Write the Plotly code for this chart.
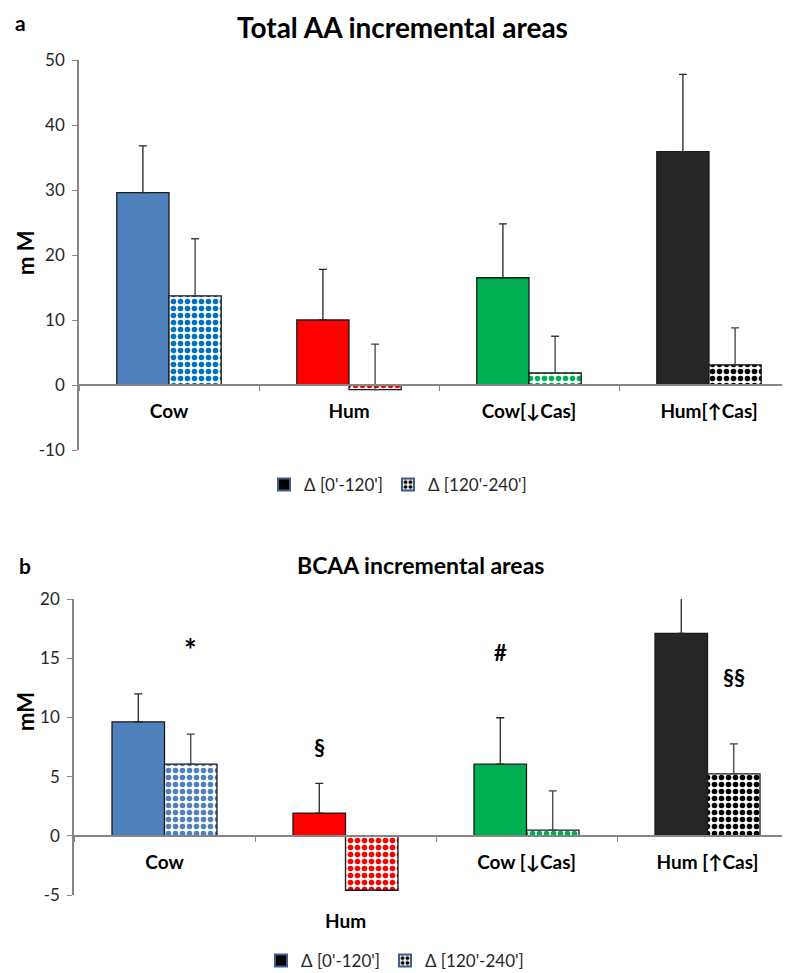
import plotly.graph_objects as go

# ---------------- data ----------------
cats_a = ["Cow", "Hum", "Cow[↓Cas]", "Hum[↑Cas]"]
aa_0_120 = [29.6, 10.0, 16.5, 35.9]
aa_0_120_err = [7.2, 7.8, 8.3, 11.9]
aa_120_240 = [13.7, -0.7, 1.85, 3.1]
aa_120_240_err = [8.8, 7.0, 5.65, 5.7]
ticks_a = [-10, 0, 10, 20, 30, 40, 50]

cats_b = ["Cow", "Hum", "Cow [↓Cas]", "Hum [↑Cas]"]
bcaa_0_120 = [9.63, 1.92, 6.05, 17.1]
bcaa_0_120_err = [2.35, 2.51, 3.92, 2.96]
bcaa_120_240 = [6.05, -4.6, 0.48, 5.23]
bcaa_120_240_err = [2.54, 0.0, 3.31, 2.54]
ticks_b = [-5, 0, 5, 10, 15, 20]

# significance marks: (category index, series index 0/1, text, y value)
marks_b = [(0, 1, "*", 15.8), (1, 0, "§", 7.5), (2, 0, "#", 15.5), (3, 1, "§§", 13.4)]

legend_names = ["Δ [0'-120']", "Δ [120'-240']"]

# ---------------- style ----------------
W, H = 790, 973
OFF = 8          # page body margin compensation (px)
FONT = "Lato"
solid_colors = ["#4F81BD", "#FF0000", "#00B050", "#262626"]
pat_colors_a = ["#0070C0", "#FF0000", "#00B050", "#000000"]
pat_colors_b = ["#4F81BD", "#FF0000", "#00B050", "#000000"]
AXC = "#868686"
TXT = "#262626"
BARGAP = 0.42

# pixel layout (screen coordinates of the target picture)
top_y = (60, 450)      # px of ymax, ymin
top_x0 = 79
bot_y = (599, 895)
bot_x0 = 74
top_range = (-10, 50)
bot_range = (-5, 20)
cat_px_top = 180
cat_px_bot = 181


def pf(py):
    return 1 - (py - OFF) / H


def px(x):
    return (x - OFF) / W


fig = go.Figure()


def add_bars(cats, v1, e1, v2, e2, pcols, xa, ya):
    fig.add_trace(go.Bar(
        x=cats, y=v1, xaxis=xa, yaxis=ya, offsetgroup="a", showlegend=False,
        marker=dict(color=solid_colors, line=dict(color="#1a1a1a", width=1.3)),
        error_y=dict(type="data", array=e1, arrayminus=[0] * len(e1), symmetric=False,
                     color="#262626", thickness=1.3, width=4),
        hoverinfo="skip"))
    fig.add_trace(go.Bar(
        x=cats, y=v2, xaxis=xa, yaxis=ya, offsetgroup="b", showlegend=False,
        marker=dict(color="white", line=dict(color="#1a1a1a", width=1.3),
                    pattern=dict(shape=".", fgcolor=pcols, bgcolor="white",
                                 size=7, solidity=0.5, fillmode="replace")),
        error_y=dict(type="data", array=e2, arrayminus=[0] * len(e2), symmetric=False,
                     color="#404040", thickness=1.3, width=4),
        hoverinfo="skip"))
    # legend-only entries
    lg = "legend" if xa == "x" else "legend2"
    fig.add_trace(go.Bar(
        x=[cats[0]], y=[None], xaxis=xa, yaxis=ya, offsetgroup="a", name=legend_names[0],
        legend=lg, marker=dict(color="black", line=dict(color="#3E5E8A", width=2))))
    fig.add_trace(go.Bar(
        x=[cats[0]], y=[None], xaxis=xa, yaxis=ya, offsetgroup="b", name=legend_names[1],
        legend=lg, marker=dict(color="white", line=dict(color="#3E5E8A", width=2),
                               pattern=dict(shape=".", fgcolor="black", bgcolor="white",
                                            size=6, solidity=0.5, fillmode="replace"))))


add_bars(cats_a, aa_0_120, aa_0_120_err, aa_120_240, aa_120_240_err, pat_colors_a, "x", "y")
add_bars(cats_b, bcaa_0_120, bcaa_0_120_err, bcaa_120_240, bcaa_120_240_err, pat_colors_b, "x2", "y2")


def zero_pos(dom, rng):
    return dom[0] + (0 - rng[0]) / (rng[1] - rng[0]) * (dom[1] - dom[0])


ydom_a = [pf(top_y[1]), pf(top_y[0])]
ydom_b = [pf(bot_y[1]), pf(bot_y[0])]
xdom_a = [px(top_x0), 1]
xdom_b = [px(bot_x0), 1]
xr_a = [-0.5, -0.5 + (W - (top_x0 - OFF)) / cat_px_top]
xr_b = [-0.5, -0.5 + (W - (bot_x0 - OFF)) / cat_px_bot]

xcommon = dict(type="category", showline=True, linecolor=AXC, linewidth=2,
               ticks="outside", ticklen=5, tickcolor=AXC, tickson="boundaries",
               tickfont=dict(family=FONT, size=19, color="black", weight="bold"),
               showgrid=False, zeroline=False, anchor="free", ticklabelstandoff=9,
               automargin=False)
ycommon = dict(showline=True, linecolor=AXC, linewidth=1.5, ticks="outside", ticklen=5,
               tickcolor=AXC, tickfont=dict(family=FONT, size=17, color=TXT),
               showgrid=False, zeroline=False, ticklabelstandoff=4, automargin=False,
               tickmode="array")

fig.update_layout(
    width=W, height=H, margin=dict(l=0, r=0, t=0, b=0, pad=0, autoexpand=False),
    paper_bgcolor="white", plot_bgcolor="white",
    barmode="group", bargap=BARGAP, bargroupgap=0,
    xaxis=dict(xcommon, domain=xdom_a, range=xr_a, position=zero_pos(ydom_a, top_range),
               categoryorder="array", categoryarray=cats_a),
    yaxis=dict(ycommon, domain=ydom_a, range=list(top_range), anchor="x",
               tickvals=ticks_a, ticktext=[str(v) for v in ticks_a]),
    xaxis2=dict(xcommon, domain=xdom_b, range=xr_b, position=zero_pos(ydom_b, bot_range),
                categoryorder="array", categoryarray=cats_b,
                tickmode="array", tickvals=cats_b,
                ticktext=[c if v >= 0 else "" for c, v in zip(cats_b, bcaa_120_240)]),
    yaxis2=dict(ycommon, domain=ydom_b, range=list(bot_range), anchor="x2",
                tickvals=ticks_b, ticktext=[str(v) for v in ticks_b]),
    legend=dict(orientation="h", x=px(398), xanchor="center", y=pf(485), yanchor="middle",
                font=dict(family=FONT, size=17, color=TXT), bgcolor="rgba(0,0,0,0)",
                itemwidth=30),
    legend2=dict(orientation="h", x=px(395), xanchor="center", y=pf(961), yanchor="middle",
                 font=dict(family=FONT, size=17, color=TXT), bgcolor="rgba(0,0,0,0)",
                 itemwidth=30),
    showlegend=True,
)

ann = []
# titles and panel letters
ann.append(dict(text="<b>Total AA incremental areas</b>", x=px(402), y=1, xref="paper", yref="paper",
                xanchor="center", yanchor="top", showarrow=False,
                font=dict(family=FONT, size=28, color="black")))
ann.append(dict(text="<b>a</b>", x=px(20), y=pf(22), xref="paper", yref="paper",
                xanchor="center", yanchor="middle",
                showarrow=False, font=dict(family=FONT, size=21, color="black")))
ann.append(dict(text="<b>BCAA incremental areas</b>", x=px(420), y=pf(565), xref="paper", yref="paper",
                xanchor="center", yanchor="middle", showarrow=False,
                font=dict(family=FONT, size=23, color="black")))
ann.append(dict(text="<b>b</b>", x=px(25), y=pf(565), xref="paper", yref="paper",
                xanchor="center", yanchor="middle",
                showarrow=False, font=dict(family=FONT, size=21, color="black")))
# y titles
ann.append(dict(text="<b>m M</b>", x=px(25), y=pf(253), xref="paper", yref="paper", textangle=-90,
                xanchor="center", yanchor="middle", showarrow=False,
                font=dict(family=FONT, size=22, color="black")))
ann.append(dict(text="<b>mM</b>", x=px(25), y=pf(712), xref="paper", yref="paper", textangle=-90,
                xanchor="center", yanchor="middle", showarrow=False,
                font=dict(family=FONT, size=22, color="black")))
# category label placed below negative bar (bottom chart)
for i, (c, v) in enumerate(zip(cats_b, bcaa_120_240)):
    if v < 0:
        ann.append(dict(text="<b>" + c + "</b>", x=i, y=v, xref="x2", yref="y2", yanchor="top",
                        yshift=-17, showarrow=False, font=dict(family=FONT, size=19, color="black")))
# significance marks
off = (1 - BARGAP) / 4
for ci, si, t, yv in marks_b:
    ann.append(dict(text="<b>" + t + "</b>", x=ci + (off if si == 1 else -off), y=yv,
                    xref="x2", yref="y2", showarrow=False,
                    font=dict(family=FONT, size=30 if t == "*" else 22, color="black")))

fig.update_layout(annotations=ann)

fig.write_html("out.html")
